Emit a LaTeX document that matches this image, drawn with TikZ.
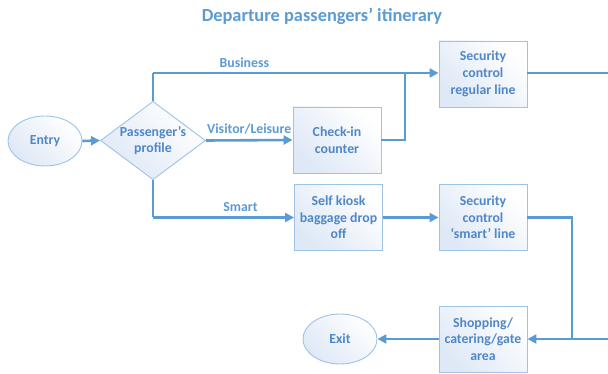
\documentclass[tikz,border=0pt]{standalone}
\usepackage{fontspec}
\setmainfont{Carlito}
\usetikzlibrary{shapes.geometric,arrows.meta}
\definecolor{lineblue}{RGB}{91,155,213}
\definecolor{txtblue}{RGB}{80,135,200}
\definecolor{bordblue}{RGB}{157,195,230}
\definecolor{fillblue}{RGB}{222,232,246}
\tikzset{
  every node/.style={font=\bfseries\fontsize{13.8}{16.7}\selectfont},
  box/.style={draw=bordblue, line width=0.9pt, top color=fillblue, bottom color=white, shading angle=135,
    minimum width=88pt, minimum height=66pt, align=center, text=txtblue, inner sep=1pt},
  oval/.style={ellipse, draw=bordblue, line width=0.9pt, top color=fillblue, bottom color=white, shading angle=135,
    minimum width=74pt, minimum height=50pt, text=txtblue, inner sep=0pt},
  dia/.style={diamond, draw=bordblue, line width=0.9pt, top color=fillblue, bottom color=white, shading angle=135,
    minimum width=103pt, minimum height=77pt, aspect=1.34, align=center, text=txtblue, inner sep=0pt},
  flow/.style={draw=lineblue, line width=2.6pt},
  arr/.style={flow, -{Triangle[length=9pt,width=9pt]}},
  lbl/.style={text=lineblue}
}
\begin{document}
\begin{tikzpicture}[x=1pt,y=-1pt]
\useasboundingbox (0,0) rectangle (608,374);
\clip (0,0) rectangle (608,374);
\node[text=lineblue, font=\bfseries\fontsize{18.4}{22}\selectfont] (title) at (322,16) {Departure passengers’ itinerary};

\node[oval] (entry) at (45,141) {Entry};
\node[dia] (prof) at (153,140.5) {Passenger’s\\profile};
\node[box] (checkin) at (337,140) {Check-in\\counter};
\node[box] (secreg) at (483,74) {Security\\control\\regular line};
\node[box] (kiosk) at (338.5,217.5) {Self kiosk\\baggage drop\\off};
\node[box] (secsmart) at (483,217.5) {Security\\control\\‘smart’ line};
\node[box] (shop) at (483,339) {Shopping/\\catering/gate\\area};
\node[oval] (exit) at (340,339) {Exit};

\coordinate (bjoin) at (153,73);
\coordinate (cjoin) at (405,73);
\coordinate (sjoin) at (153,217.5);
\coordinate (edgeA) at (612,73);
\coordinate (edgeB) at (612,339);
\coordinate (mjoin) at (572,217.5);

\draw[arr] (entry.east) -- (prof.west);
\draw[arr] (prof.east) -- (checkin.west) node[lbl, midway, above=1pt] {Visitor/Leisure};
\draw[flow] (prof.north) -- (bjoin);
\draw[arr] (bjoin) -- node[lbl, above=1pt, pos=0.32] {Business} (bjoin -| secreg.west);
\draw[flow] (checkin.east) -| (cjoin);
\draw[flow] (secreg.east |- edgeA) -- (edgeA);
\draw[flow] (prof.south) -- (sjoin);
\draw[arr] (sjoin) -- node[lbl, above=1pt, pos=0.62] {Smart} (kiosk.west);
\draw[arr] (kiosk.east) -- (secsmart.west);
\draw[flow] (secsmart.east) -- (mjoin) -- (mjoin |- shop.east);
\draw[arr] (edgeB) -- (shop.east);
\draw[arr] (shop.west) -- (exit.east);
\end{tikzpicture}
\end{document}
